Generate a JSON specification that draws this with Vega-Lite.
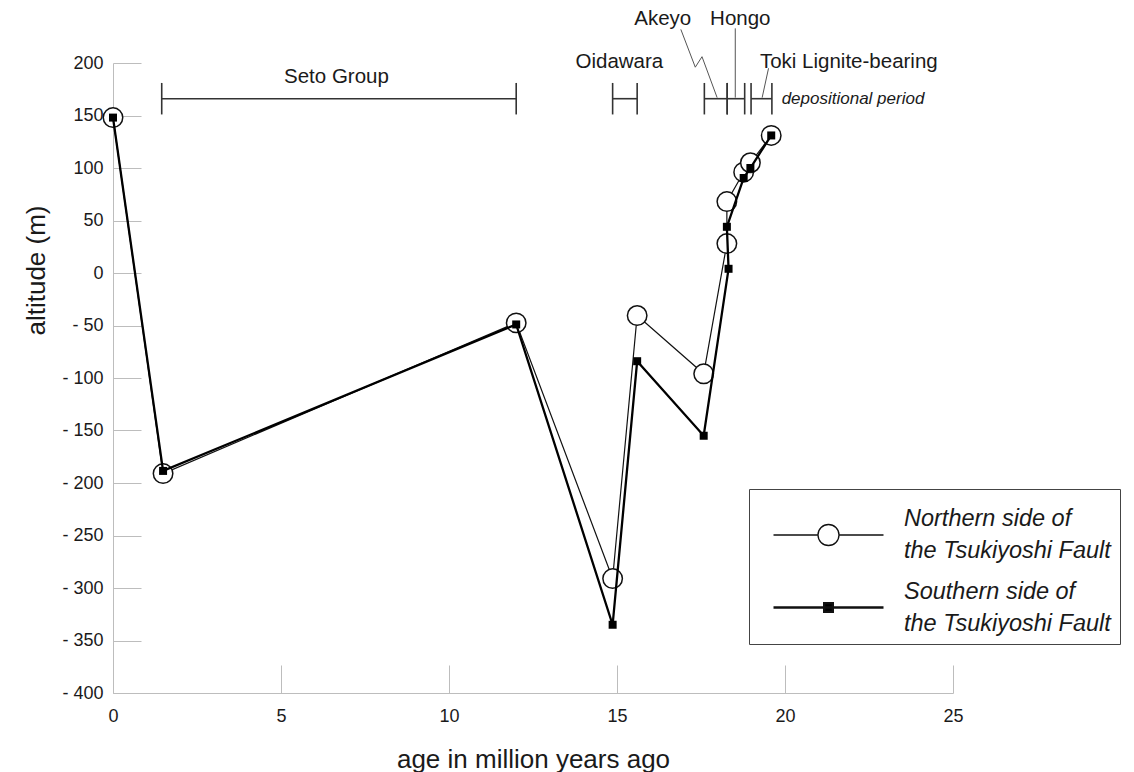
{
  "$schema": "https://vega.github.io/schema/vega-lite/v6.json",
  "width": 840,
  "height": 630,
  "autosize": {"type": "none"},
  "padding": {"left": 113, "top": 63, "right": 181, "bottom": 79},
  "background": "white",
  "config": {
    "font": "Liberation Sans",
    "view": {"stroke": null},
    "style": {"guide-label": {"lineHeight": 32}},
    "axis": {"domainColor": "#bdbdbd", "tickColor": "#bdbdbd", "labelColor": "#1a1a1a", "titleColor": "#1a1a1a", "labelFont": "Liberation Sans", "titleFont": "Liberation Sans", "titleFontWeight": "normal", "grid": false, "labelFontSize": 18, "titleFontSize": 26, "tickSize": -28, "labelFlush": false},
    "axisX": {"labelPadding": 42, "titleX": 420, "titleY": 74, "titleBaseline": "alphabetic", "titleAlign": "center"},
    "axisY": {"labelPadding": 38, "titleX": -77, "titleY": 207, "titleBaseline": "middle", "titleAngle": -90, "titleAlign": "center"}
  },
  "datasets": {
    "points": [
      {"series": "Northern side of the Tsukiyoshi Fault", "idx": 0, "age": 0, "alt": 148},
      {"series": "Northern side of the Tsukiyoshi Fault", "idx": 1, "age": 1.49, "alt": -191},
      {"series": "Northern side of the Tsukiyoshi Fault", "idx": 2, "age": 12, "alt": -47.5},
      {"series": "Northern side of the Tsukiyoshi Fault", "idx": 3, "age": 14.87, "alt": -291},
      {"series": "Northern side of the Tsukiyoshi Fault", "idx": 4, "age": 15.6, "alt": -40.5},
      {"series": "Northern side of the Tsukiyoshi Fault", "idx": 5, "age": 17.58, "alt": -96},
      {"series": "Northern side of the Tsukiyoshi Fault", "idx": 6, "age": 18.27, "alt": 28},
      {"series": "Northern side of the Tsukiyoshi Fault", "idx": 7, "age": 18.27, "alt": 68},
      {"series": "Northern side of the Tsukiyoshi Fault", "idx": 8, "age": 18.77, "alt": 96},
      {"series": "Northern side of the Tsukiyoshi Fault", "idx": 9, "age": 18.97, "alt": 105},
      {"series": "Northern side of the Tsukiyoshi Fault", "idx": 10, "age": 19.59, "alt": 131},
      {"series": "Southern side of the Tsukiyoshi Fault", "idx": 0, "age": 0, "alt": 148},
      {"series": "Southern side of the Tsukiyoshi Fault", "idx": 1, "age": 1.49, "alt": -188.5},
      {"series": "Southern side of the Tsukiyoshi Fault", "idx": 2, "age": 12, "alt": -49},
      {"series": "Southern side of the Tsukiyoshi Fault", "idx": 3, "age": 14.87, "alt": -335},
      {"series": "Southern side of the Tsukiyoshi Fault", "idx": 4, "age": 15.6, "alt": -84},
      {"series": "Southern side of the Tsukiyoshi Fault", "idx": 5, "age": 17.58, "alt": -155},
      {"series": "Southern side of the Tsukiyoshi Fault", "idx": 6, "age": 18.32, "alt": 4},
      {"series": "Southern side of the Tsukiyoshi Fault", "idx": 7, "age": 18.27, "alt": 44},
      {"series": "Southern side of the Tsukiyoshi Fault", "idx": 8, "age": 18.77, "alt": 90.5},
      {"series": "Southern side of the Tsukiyoshi Fault", "idx": 9, "age": 18.97, "alt": 100},
      {"series": "Southern side of the Tsukiyoshi Fault", "idx": 10, "age": 19.59, "alt": 131}
    ],
    "periods": [
      {"unit": "Seto Group", "from": 1.45, "to": 12.0},
      {"unit": "Oidawara", "from": 14.87, "to": 15.6},
      {"unit": "Akeyo", "from": 17.6, "to": 18.28},
      {"unit": "Hongo", "from": 18.28, "to": 18.8},
      {"unit": "Toki Lignite-bearing", "from": 18.99, "to": 19.61}
    ],
    "labels": [
      {"text": "Seto Group", "age": 6.65, "alt": 187},
      {"text": "Oidawara", "age": 15.07, "alt": 201},
      {"text": "Akeyo", "age": 16.36, "alt": 242},
      {"text": "Hongo", "age": 18.67, "alt": 242},
      {"text": "Toki Lignite-bearing", "age": 21.9, "alt": 201}
    ],
    "leaders": [
      {"leader": "Akeyo", "seq": 0, "age": 16.9, "alt": 232},
      {"leader": "Akeyo", "seq": 1, "age": 17.33, "alt": 196},
      {"leader": "Akeyo", "seq": 2, "age": 17.53, "alt": 206},
      {"leader": "Akeyo", "seq": 3, "age": 17.98, "alt": 167},
      {"leader": "Hongo", "seq": 0, "age": 18.52, "alt": 233},
      {"leader": "Hongo", "seq": 1, "age": 18.52, "alt": 167},
      {"leader": "Toki", "seq": 0, "age": 19.51, "alt": 195},
      {"leader": "Toki", "seq": 1, "age": 19.32, "alt": 167}
    ]
  },
  "layer": [
    {
      "data": {"name": "points"},
      "transform": [{"filter": "datum.series == 'Northern side of the Tsukiyoshi Fault'"}],
      "mark": {"type": "line", "color": "#111", "strokeWidth": 1.2},
      "encoding": {
        "x": {"field": "age", "type": "quantitative", "title": "age in million years ago", "scale": {"domain": [0, 25], "nice": false, "zero": false},
          "axis": {"values": [0, 5, 10, 15, 20, 25]}},
        "y": {"field": "alt", "type": "quantitative", "title": "altitude (m)", "scale": {"domain": [-400, 200], "nice": false, "zero": false},
          "axis": {"values": [-400, -350, -300, -250, -200, -150, -100, -50, 0, 50, 100, 150, 200], "labelExpr": "datum.value < 0 ? '- ' + abs(datum.value) : datum.label"}},
        "order": {"field": "idx", "type": "quantitative"}
      }
    },
    {
      "data": {"name": "points"},
      "transform": [{"filter": "datum.series == 'Northern side of the Tsukiyoshi Fault'"}],
      "mark": {"type": "point", "shape": "circle", "filled": true, "fill": "white", "stroke": "#111", "strokeWidth": 1.5, "size": 380, "opacity": 1},
      "encoding": {
        "x": {"field": "age", "type": "quantitative"},
        "y": {"field": "alt", "type": "quantitative"}
      }
    },
    {
      "data": {"name": "points"},
      "transform": [{"filter": "datum.series == 'Southern side of the Tsukiyoshi Fault'"}],
      "mark": {"type": "line", "color": "#000", "strokeWidth": 2.3},
      "encoding": {
        "x": {"field": "age", "type": "quantitative"},
        "y": {"field": "alt", "type": "quantitative"},
        "order": {"field": "idx", "type": "quantitative"}
      }
    },
    {
      "data": {"name": "points"},
      "transform": [{"filter": "datum.series == 'Southern side of the Tsukiyoshi Fault'"}],
      "mark": {"type": "point", "shape": "square", "filled": true, "color": "#000", "size": 64, "opacity": 1},
      "encoding": {
        "x": {"field": "age", "type": "quantitative"},
        "y": {"field": "alt", "type": "quantitative"}
      }
    },
    {
      "data": {"name": "points"},
      "transform": [{"filter": "false"}],
      "mark": {"type": "point", "filled": false, "color": "#111", "stroke": "#111", "size": 1600, "opacity": 1},
      "encoding": {
        "x": {"field": "age", "type": "quantitative"},
        "y": {"field": "alt", "type": "quantitative"},
        "shape": {"field": "series", "type": "nominal",
          "scale": {"domain": ["Northern side of the Tsukiyoshi Fault", "Southern side of the Tsukiyoshi Fault"],
            "range": ["M-2.75,0.8H-0.525M0.525,0.8H2.75M0.525,0.8A0.525,0.525,0,1,1,-0.525,0.8A0.525,0.525,0,1,1,0.525,0.8Z", "M-2.75,0.8H2.75M-0.2175,0.5825H0.2175V1.0175H-0.2175Z"]},
          "legend": {
            "title": null, "orient": "none", "legendX": 636, "legendY": 426,
            "padding": 9, "fillColor": "white", "strokeColor": "#444",
            "symbolSize": 1600, "symbolOffset": 49, "labelOffset": 54,
            "labelFontSize": 23.5, "labelFontStyle": "italic", "labelColor": "#1a1a1a", "labelLimit": 500,
            "labelExpr": "[slice(datum.label, 0, 16), slice(datum.label, 17)]",
            "rowPadding": 7
          }},
        "fill": {"field": "series", "type": "nominal",
          "scale": {"domain": ["Northern side of the Tsukiyoshi Fault", "Southern side of the Tsukiyoshi Fault"], "range": ["white", "#000"]}},
        "strokeWidth": {"field": "series", "type": "nominal",
          "scale": {"domain": ["Northern side of the Tsukiyoshi Fault", "Southern side of the Tsukiyoshi Fault"], "range": [1.3, 2.3]}}
      }
    },
    {
      "data": {"name": "periods"},
      "mark": {"type": "rule", "color": "#333", "strokeWidth": 1.6},
      "encoding": {
        "x": {"field": "from", "type": "quantitative"},
        "x2": {"field": "to"},
        "y": {"datum": 166}
      }
    },
    {
      "data": {"name": "periods"},
      "transform": [{"fold": ["from", "to"], "as": ["end", "edge"]}],
      "mark": {"type": "rule", "color": "#333", "strokeWidth": 1.6},
      "encoding": {
        "x": {"field": "edge", "type": "quantitative"},
        "y": {"datum": 151},
        "y2": {"datum": 181}
      }
    },
    {
      "data": {"name": "leaders"},
      "mark": {"type": "line", "color": "#555", "strokeWidth": 1},
      "encoding": {
        "x": {"field": "age", "type": "quantitative"},
        "y": {"field": "alt", "type": "quantitative"},
        "detail": {"field": "leader"},
        "order": {"field": "seq", "type": "quantitative"}
      }
    },
    {
      "data": {"name": "labels"},
      "mark": {"type": "text", "fontSize": 20.5, "color": "#1a1a1a", "align": "center", "baseline": "middle"},
      "encoding": {
        "x": {"field": "age", "type": "quantitative"},
        "y": {"field": "alt", "type": "quantitative"},
        "text": {"field": "text"}
      }
    },
    {
      "data": {"values": [{"note": "depositional period"}]},
      "mark": {"type": "text", "fontSize": 17, "fontStyle": "italic", "color": "#1a1a1a", "align": "left", "baseline": "middle"},
      "encoding": {
        "x": {"datum": 19.9},
        "y": {"datum": 166},
        "text": {"field": "note"}
      }
    }
  ]
}
